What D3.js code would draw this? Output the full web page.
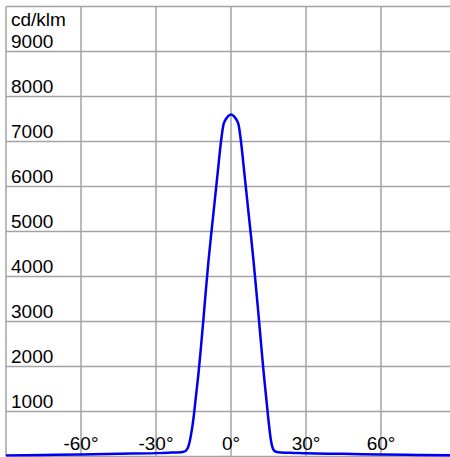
<!DOCTYPE html>
<html>
<head>
    <meta charset="utf-8"/>
    <title>Light distribution cd/klm</title>
    <script src="https://d3js.org/d3.v7.min.js"></script>
</head>
<style>
    body { margin: 0; background: white; }
    text { font-family: "Liberation Sans", Arial, sans-serif; font-size: 19px; fill: #000; }
</style>
<body>

<svg id="chart" width="450" height="457"></svg>

<script type="text/javascript">

    // angles in degrees, intensity in cd/klm
    var angles = [-90, -75, -60, -45, -30, -25, -22, -20, -19, -18, -17, -16, -15, -14, -13, -12, -11, -10, -9, -8, -7, -6, -5, -4, -3, -2, -1,
        0, 1, 2, 3, 4, 5, 6, 7, 8, 9, 10, 11, 12, 13, 14, 15, 16, 17, 18, 19, 20, 22, 25, 30, 45, 60, 75, 90];
    var intensity = [25, 35, 45, 60, 75, 85, 90, 95, 105, 130, 230, 480, 850, 1350, 1850, 2440, 3070, 3730, 4350, 4900, 5420, 5950, 6480, 7000, 7380, 7500, 7570,
        7600, 7570, 7500, 7380, 7000, 6480, 5950, 5420, 4900, 4350, 3760, 3150, 2520, 1900, 1350, 800, 350, 150, 105, 95, 90, 85, 80, 70, 60, 45, 35, 25];

    var yTicks = [1000, 2000, 3000, 4000, 5000, 6000, 7000, 8000, 9000];
    var xTicks = [-60, -30, 0, 30, 60];
    var yUnit = "cd/klm";

    var svg = d3.select("#chart");

    var x = d3.scaleLinear().domain([-90, 90]).range([6, 456]);
    var y = d3.scaleLinear().domain([0, 10000]).range([456.5, 6.5]);

    // grid
    var grid = svg.append("g").attr("stroke", "#a3a3a3").attr("stroke-width", 1.5);
    grid.selectAll(".hline")
        .data(d3.range(0, 10001, 1000))
        .enter().append("line")
        .attr("class", "hline")
        .attr("x1", x(-90)).attr("x2", x(90))
        .attr("y1", function (d) { return y(d); })
        .attr("y2", function (d) { return y(d); });
    grid.selectAll(".vline")
        .data(d3.range(-90, 91, 30))
        .enter().append("line")
        .attr("class", "vline")
        .attr("x1", function (d) { return x(d); })
        .attr("x2", function (d) { return x(d); })
        .attr("y1", y(0)).attr("y2", y(10000));

    // y labels sit just above their gridline
    svg.selectAll(".ylabel")
        .data(yTicks)
        .enter().append("text")
        .attr("class", "ylabel")
        .attr("x", 11)
        .attr("y", function (d) { return y(d) - 4; })
        .text(function (d) { return d; });

    svg.append("text")
        .attr("x", 11)
        .attr("y", y(9000) - 26)
        .text(yUnit);

    // x labels along the bottom
    svg.selectAll(".xlabel")
        .data(xTicks)
        .enter().append("text")
        .attr("class", "xlabel")
        .attr("x", function (d) { return x(d); })
        .attr("y", 450)
        .attr("text-anchor", "middle")
        .text(function (d) { return d + "°"; });

    // curve
    var points = angles.map(function (a, i) { return [a, intensity[i]]; });
    var line = d3.line()
        .x(function (d) { return x(d[0]); })
        .y(function (d) { return y(d[1]); })
        .curve(d3.curveMonotoneX);

    svg.append("path")
        .datum(points)
        .attr("d", line)
        .attr("fill", "none")
        .attr("stroke", "#0000ee")
        .attr("stroke-width", 2.5);
</script>
</body>
</html>
